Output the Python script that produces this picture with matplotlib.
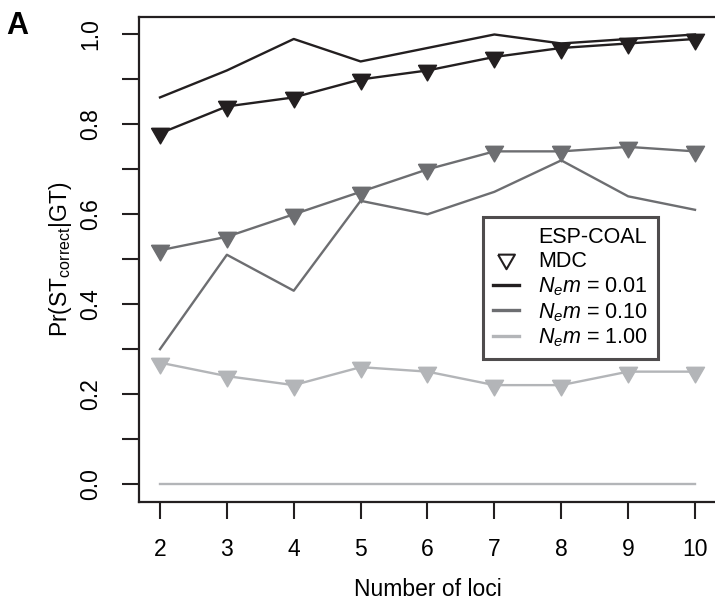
import matplotlib
matplotlib.use("Agg")
import matplotlib.pyplot as plt
from matplotlib.lines import Line2D

plt.rcParams["font.family"] = ["Liberation Sans", "DejaVu Sans"]
plt.rcParams["mathtext.fontset"] = "custom"
plt.rcParams["mathtext.rm"] = "Liberation Sans"
plt.rcParams["mathtext.it"] = "Liberation Sans:italic"

loci = [2, 3, 4, 5, 6, 7, 8, 9, 10]

# ESP-COAL (lines only)
esp_001 = [0.86, 0.92, 0.99, 0.94, 0.97, 1.00, 0.98, 0.99, 1.00]
esp_010 = [0.30, 0.51, 0.43, 0.63, 0.60, 0.65, 0.72, 0.64, 0.61]
esp_100 = [0.00, 0.00, 0.00, 0.00, 0.00, 0.00, 0.00, 0.00, 0.00]

# MDC (lines with triangles)
mdc_001 = [0.78, 0.84, 0.86, 0.90, 0.92, 0.95, 0.97, 0.98, 0.99]
mdc_010 = [0.52, 0.55, 0.60, 0.65, 0.70, 0.74, 0.74, 0.75, 0.74]
mdc_100 = [0.27, 0.24, 0.22, 0.26, 0.25, 0.22, 0.22, 0.25, 0.25]

labels = [r"$N_e m$ = 0.01", r"$N_e m$ = 0.10", r"$N_e m$ = 1.00"]
colors = ["#231f20", "#6d6e71", "#b3b5b8"]

# down triangle centred on its centroid (like R pch 25)
tri = [(-1, 0.577), (1, 0.577), (0, -1.155), (-1, 0.577)]

fig = plt.figure(figsize=(7.15, 6.02), dpi=100)
ax = fig.add_axes([138.6 / 715, 100 / 602, 577.8 / 715, 485.5 / 602])

for esp, mdc, c in zip([esp_001, esp_010, esp_100], [mdc_001, mdc_010, mdc_100], colors):
    ax.plot(loci, esp, color=c, lw=1.7, zorder=2)
    ax.plot(loci, mdc, color=c, lw=1.7, marker=tri, ms=15, mfc=c, mec=c, zorder=3)

ax.set_xlim(1.68, 10.32)
ax.set_ylim(-0.04, 1.04)
ax.set_xticks(loci)
yt = [i / 10 for i in range(11)]
ax.set_yticks(yt)
ax.set_yticklabels(["%.1f" % v if i % 2 == 0 else "" for i, v in enumerate(yt)],
                   rotation=90, va="center")
ax.tick_params(axis="both", length=12, width=1.5, labelsize=16.5, pad=14, color="#231f20")
for s in ax.spines.values():
    s.set_linewidth(1.6)
    s.set_color("#231f20")

ax.set_xlabel("Number of loci", fontsize=16.5, labelpad=12)
ax.set_ylabel(r"Pr(ST$_{\mathrm{correct}}$|GT)", fontsize=16.5, labelpad=4)

handles = [
    Line2D([], [], linestyle="none"),
    Line2D([], [], linestyle="none", marker=tri, ms=14, mfc="none", mec="#231f20", mew=1.5),
] + [Line2D([], [], color=c, lw=2.4) for c in colors]
leg = ax.legend(handles, ["ESP-COAL", "MDC"] + labels,
                loc="upper left", bbox_to_anchor=(483 / 715, 1 - 217 / 602),
                bbox_transform=fig.transFigure, fontsize=15.5, frameon=True,
                fancybox=False, handlelength=1.2, handletextpad=0.9,
                labelspacing=0.15, borderpad=0.45, borderaxespad=0)
leg.get_frame().set_edgecolor("#231f20")
leg.get_frame().set_linewidth(2.2)

fig.text(6 / 715, 1 - 26 / 602, "A", fontsize=22, fontweight="bold", va="center", ha="left")

plt.savefig("out.png", dpi=100)
